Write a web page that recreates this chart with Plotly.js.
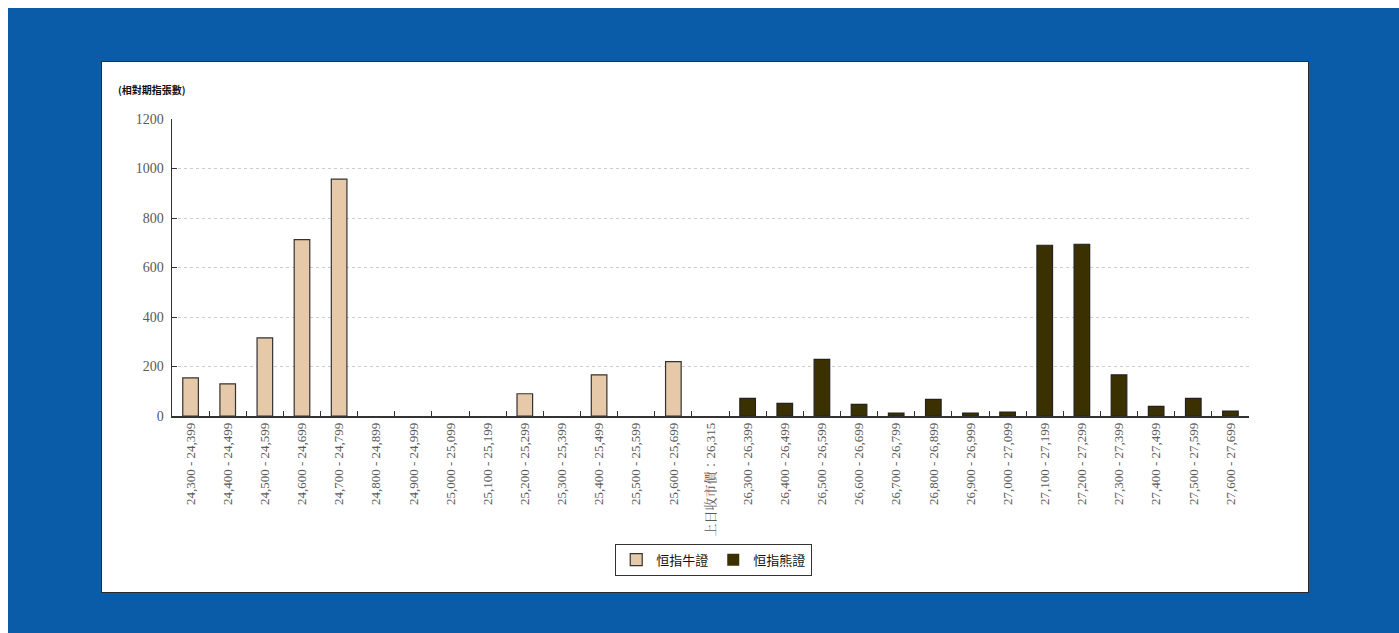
<!DOCTYPE html>
<html><head><meta charset="utf-8">
<script src="https://cdn.plot.ly/plotly-3.0.1.min.js"></script>
<style>
html,body{margin:0;padding:0;background:#fff;width:1399px;height:633px;overflow:hidden;}
#bg{position:absolute;left:8px;top:8px;width:1391px;height:625px;background:#0a5ca8;}
#panel{position:absolute;left:101px;top:61px;width:1206px;height:530px;background:#fff;border:1px solid #2b2b2b;}
#chart{width:1206px;height:530px;}
</style></head>
<body>
<div id="bg"></div>
<div id="panel"><div id="chart"></div></div>
<script>
const categories = ["24,300 - 24,399","24,400 - 24,499","24,500 - 24,599","24,600 - 24,699","24,700 - 24,799","24,800 - 24,899","24,900 - 24,999","25,000 - 25,099","25,100 - 25,199","25,200 - 25,299","25,300 - 25,399","25,400 - 25,499","25,500 - 25,599","25,600 - 25,699","上日收市價：26,315","26,300 - 26,399","26,400 - 26,499","26,500 - 26,599","26,600 - 26,699","26,700 - 26,799","26,800 - 26,899","26,900 - 26,999","27,000 - 27,099","27,100 - 27,199","27,200 - 27,299","27,300 - 27,399","27,400 - 27,499","27,500 - 27,599","27,600 - 27,699"];
const bullValues = [154,130,316,713,957,0,0,0,0,90,0,166,0,220,null,null,null,null,null,null,null,null,null,null,null,null,null,null,null];
const bearValues = [null,null,null,null,null,null,null,null,null,null,null,null,null,null,null,71,51,229,47,12,67,12,16,690,694,166,39,71,20];
const seriesNames = ["恒指牛證","恒指熊證"];
const yTicks = [0,200,400,600,800,1000,1200];

const serif = "'Liberation Serif', 'Noto Serif CJK TC', 'Noto Sans CJK TC', serif";
const lw = vals => vals.map(v => (v ? 1.2 : 0));
const traces = [
  {type:'bar', name:seriesNames[0], x:categories, y:bullValues,
   marker:{color:'#e6c9a8', line:{color:'#333333', width:lw(bullValues)}}},
  {type:'bar', name:seriesNames[1], x:categories, y:bearValues,
   marker:{color:'#3a3000', line:{color:'#222222', width:lw(bearValues)}}}
];
const layout = {
  width:1206, height:530,
  margin:{l:70, r:59, t:57, b:176},
  paper_bgcolor:'#ffffff', plot_bgcolor:'#ffffff',
  barmode:'overlay', bargap:0.58,
  showlegend:true,
  legend:{orientation:'h', x:0.503, xanchor:'center', y:-0.43, yanchor:'top',
          bordercolor:'#333333', borderwidth:1, bgcolor:'#ffffff',
          font:{family:"'Noto Sans CJK TC', sans-serif", size:13, color:'#111'},
          itemwidth:30, traceorder:'normal'},
  xaxis:{type:'category', categoryorder:'array', categoryarray:categories,
         tickangle:-90, tickson:'boundaries', ticks:'inside', ticklen:5, tickcolor:'#333',
         showline:true, linecolor:'#333333', linewidth:1.5, showgrid:false,
         tickfont:{family:serif, size:13, color:'#595959'}, fixedrange:true},
  yaxis:{range:[0,1200], tickvals:yTicks, ticks:'inside', ticklen:5, tickcolor:'#333',
         showline:true, linecolor:'#333333', linewidth:1.5,
         showgrid:true, gridcolor:'#cccccc', griddash:'dot', gridwidth:1, zeroline:false,
         tickfont:{family:serif, size:14, color:'#595959'}, ticklabelstandoff:4},
  annotations:[{text:'(相對期指張數)', xref:'paper', yref:'paper', x:-0.052, y:1.1,
    xanchor:'left', yanchor:'middle', showarrow:false,
    font:{family:"'Noto Sans CJK TC', sans-serif", size:10, color:'#111', weight:'bold'}}]
};
Plotly.newPlot('chart', traces, layout, {displayModeBar:false, staticPlot:true});
</script>
</body></html>
